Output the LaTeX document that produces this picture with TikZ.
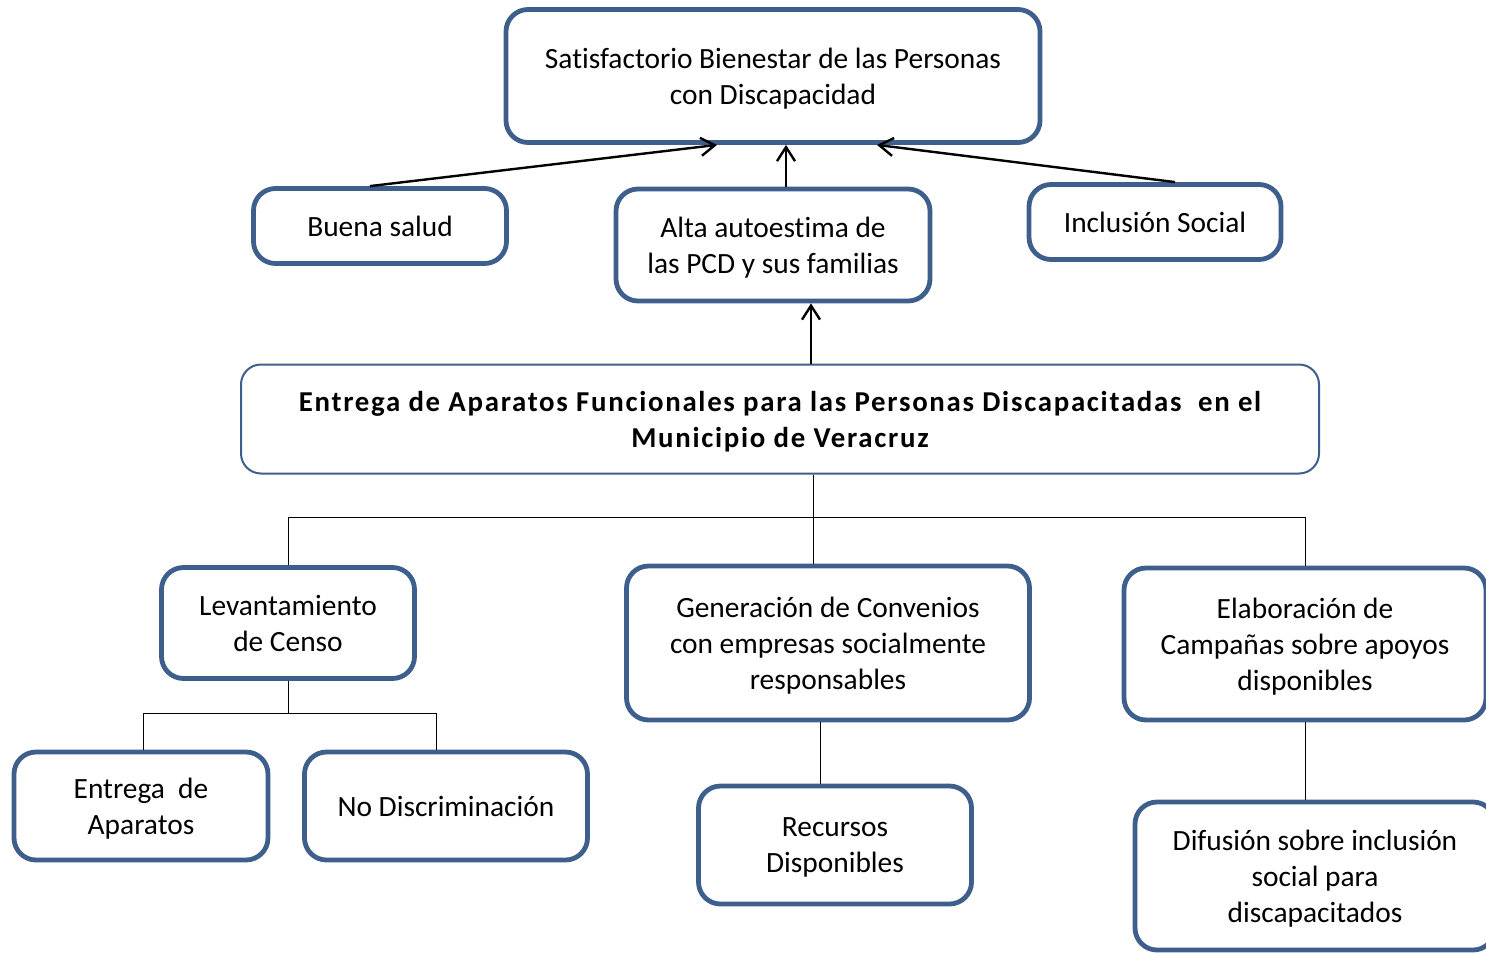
\documentclass[tikz,border=0pt]{standalone}
\usepackage{fontspec}
\setmainfont{Carlito}[Ligatures=CommonOff]
\newfontfamily\spacedfont[LetterSpace=6,Ligatures=CommonOff]{Carlito}
\usepackage{tikz}
\usetikzlibrary{
    arrows.meta,
    positioning,
    calc
}
\definecolor{boxblue}{RGB}{62,94,140}
\tikzset{
    block/.style={
        rectangle,
        rounded corners=11pt,
        draw=boxblue,
        line width=2.4pt,
        fill=white,
        align=center,
        inner sep=0pt,
        text depth=0pt,
        font=\fontsize{14.7}{18}\selectfont
    },
    mainblock/.style={
        rectangle,
        rounded corners=10pt,
        draw=boxblue,
        line width=1pt,
        fill=white,
        align=center,
        inner sep=0pt,
        text depth=0pt,
        font=\spacedfont\fontsize{14.4}{18}\selectfont\bfseries
    },
    arrow/.style={
        -{Straight Barb[length=7pt,width=9pt]},
        line width=1.2pt
    },
    link/.style={
        line width=0.5pt
    }
}

\begin{document}
\begin{tikzpicture}[x=0.5pt, y=-0.5pt]
\useasboundingbox (0,0) rectangle (1486,953);

\node[block, minimum width=267pt, minimum height=66.5pt] (goal) at (773,76) {Satisfactorio Bienestar de las Personas\\con Discapacidad};
\node[block, minimum width=126.5pt, minimum height=37.5pt] (salud) at (380,226) {Buena salud};
\node[block, minimum width=157pt, minimum height=56pt] (autoestima) at (773,245) {Alta autoestima de\\las PCD y sus familias};
\node[block, minimum width=126pt, minimum height=37.5pt] (inclusion) at (1155,222) {Inclusión Social};
\node[mainblock, minimum width=539pt, minimum height=54.5pt] (entrega) at (780,419) {Entrega de Aparatos Funcionales para las Personas Discapacitadas\ \ en el\\Municipio de Veracruz};
\node[block, minimum width=126.5pt, minimum height=55.5pt] (censo) at (288,623) {Levantamiento\\de Censo};
\node[block, minimum width=201.5pt, minimum height=77pt] (convenios) at (828,643) {Generación de Convenios\\con empresas socialmente\\responsables};
\node[block, minimum width=181pt, minimum height=76pt] (campanas) at (1305,644) {Elaboración de\\Campañas sobre apoyos\\disponibles};
\node[block, minimum width=127pt, minimum height=54pt] (aparatos) at (141,806) {Entrega\ \ de\\Aparatos};
\node[block, minimum width=141.5pt, minimum height=54pt] (nodiscr) at (446,806) {No Discriminación};
\node[block, minimum width=136.5pt, minimum height=59pt] (recursos) at (835,845) {Recursos\\Disponibles};
\node[block, minimum width=180pt, minimum height=74pt] (difusion) at (1315,876) {Difusión sobre inclusión\\social para\\discapacitados};

% effects
\draw[arrow] ($(salud.north)+(-10,0)$) -- ($(goal.south)+(-56,0)$);
\draw[arrow] ($(autoestima.north)+(13,0)$) -- ($(goal.south)+(13,0)$);
\draw[arrow] ($(inclusion.north)+(20,0)$) -- ($(goal.south)+(104,0)$);
\draw[arrow] ($(entrega.north)+(31,0)$) -- ($(autoestima.south)+(38,0)$);

% causes
\draw[link] ($(entrega.south)+(33,0)$) -- ($(convenios.north)+(-15,0)$);
\draw[link] (censo.north) -- ++(0,-48) -| (campanas.north);
\draw[link] (censo.south) -- ++(0,33) coordinate (censosplit);
\draw[link] ($(aparatos.north)+(2,0)$) |- (censosplit) -| ($(nodiscr.north)+(-10,0)$);
\draw[link] ($(convenios.south)+(-8,0)$) -- ($(recursos.north)+(-15,0)$);
\draw[link] (campanas.south) -- ($(difusion.north)+(-10,0)$);
\end{tikzpicture}
\end{document}
